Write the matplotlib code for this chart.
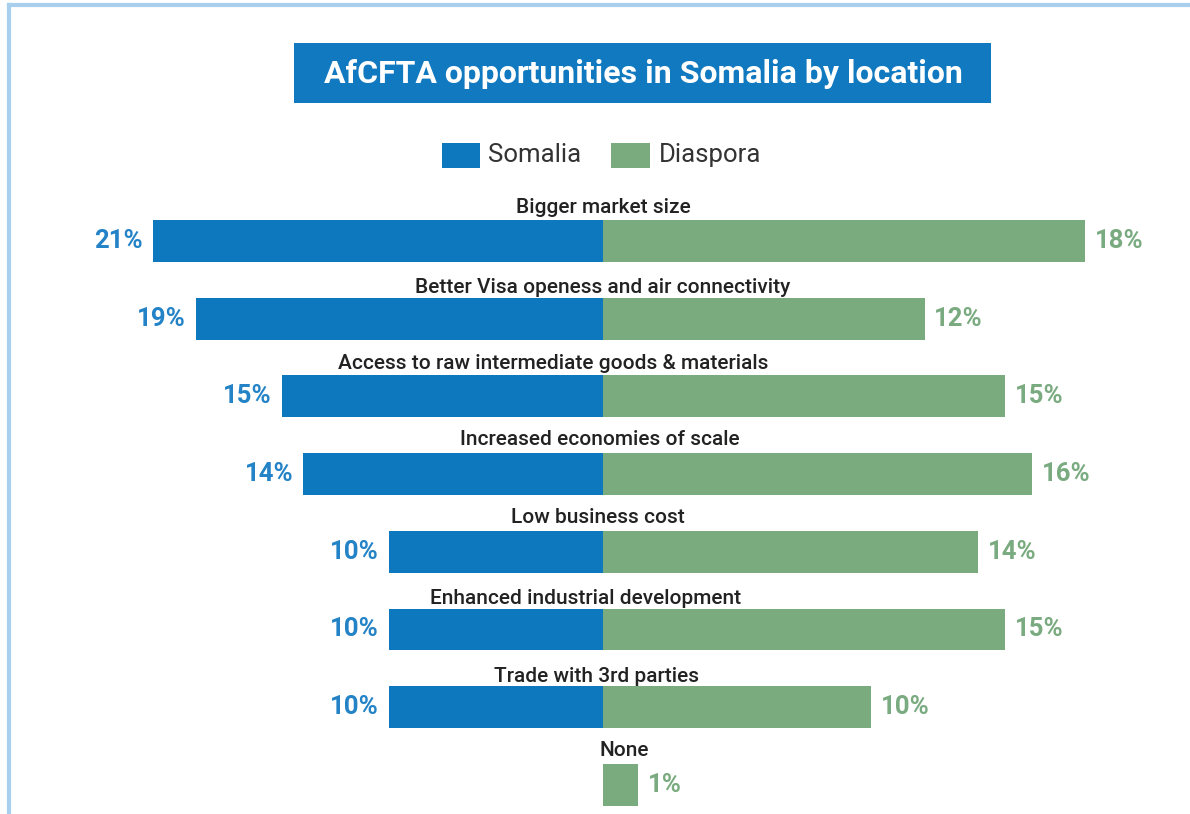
import matplotlib
matplotlib.use("Agg")
import matplotlib.pyplot as plt
from matplotlib.patches import Rectangle

plt.rcParams['font.family'] = ['Roboto', 'DejaVu Sans']

# ---- data ----
categories = ["Bigger market size",
              "Better Visa openess and air connectivity",
              "Access to raw intermediate goods & materials",
              "Increased economies of scale",
              "Low business cost",
              "Enhanced industrial development",
              "Trade with 3rd parties",
              "None"]
somalia = [21, 19, 15, 14, 10, 10, 10, 0]
diaspora = [18, 12, 15, 16, 14, 15, 10, 1.3]
series_names = ["Somalia", "Diaspora"]
title = "AfCFTA opportunities in Somalia by location"

# ---- layout / style ----
label_dx = [0, 0, -50, -3, -5, -17, -7, 21]   # horizontal offsets (px) of category labels
label_dy = [0.43, 0.40, 0.42, 0.44, 0.44, 0.40, 0.40, 0.44]
C_SOM = "#0e78be"
C_SOM_TXT = "#2383c6"
C_DIA = "#79ab7f"
C_DIA_TXT = "#7aab80"
W, H = 1190, 814
fig = plt.figure(figsize=(W / 100, H / 100), dpi=100)

def fx(px):
    return px / W

def fy(py):
    return 1 - py / H

# border
fig.add_artist(plt.Line2D([fx(9), fx(9)], [fy(5), 0], color="#a9cfee", lw=3))
fig.add_artist(plt.Line2D([fx(9), 1], [fy(5), fy(5)], color="#a9cfee", lw=3))

# title box
fig.add_artist(Rectangle((fx(294), fy(103)), fx(991) - fx(294), fy(43) - fy(103),
                         transform=fig.transFigure, facecolor="#1179c0", edgecolor="none"))
fig.text(fx(643), fy(74), title, color="white", fontsize=23, fontweight="bold",
         ha="center", va="center")

# legend
fig.add_artist(Rectangle((fx(442), fy(168)), fx(38), 25 / H, transform=fig.transFigure,
                         facecolor=C_SOM, edgecolor="none"))
fig.text(fx(488), fy(155), series_names[0], fontsize=18.5, color="#333333", va="center")
fig.add_artist(Rectangle((fx(611), fy(168)), fx(39), 25 / H, transform=fig.transFigure,
                         facecolor=C_DIA, edgecolor="none"))
fig.text(fx(659), fy(155), series_names[1], fontsize=18.5, color="#333333", va="center")

# axes
center_px = 603
top_px, bot_px = 190, 814
row0, step = 241, 77.7
ylim = ((bot_px - row0) / step, (top_px - row0) / step)
sL, sR = 21.43, 26.8
axL = fig.add_axes([fx(60), 0, fx(center_px - 60), fy(top_px)])
axR = fig.add_axes([fx(center_px), 0, fx(1150 - center_px), fy(top_px)])
axL.set_xlim((center_px - 60) / sL, 0)
axR.set_xlim(0, (1150 - center_px) / sR)
for ax in (axL, axR):
    ax.set_ylim(*ylim)
    ax.axis("off")

ys = list(range(len(categories)))
axL.barh(ys, somalia, height=0.54, color=C_SOM)
axR.barh(ys, diaspora, height=0.54, color=C_DIA)

for i, (s, d) in enumerate(zip(somalia, diaspora)):
    if s > 0:
        axL.annotate(f"{s:.0f}%", (s, i), xytext=(-7, 0), textcoords="offset points",
                     ha="right", va="center", fontsize=18.5, fontweight="bold", color=C_SOM_TXT)
    axR.annotate(f"{d:.0f}%", (d, i), xytext=(7, 0), textcoords="offset points",
                 ha="left", va="center", fontsize=18.5, fontweight="bold", color=C_DIA_TXT)
    axR.annotate(categories[i], (0, i - label_dy[i]), xytext=(label_dx[i] * 0.72, 0),
                 textcoords="offset points", ha="center", va="center", fontsize=15,
                 fontweight="medium", color="#222222", annotation_clip=False)

fig.savefig("out.png", dpi=100, facecolor="white")
